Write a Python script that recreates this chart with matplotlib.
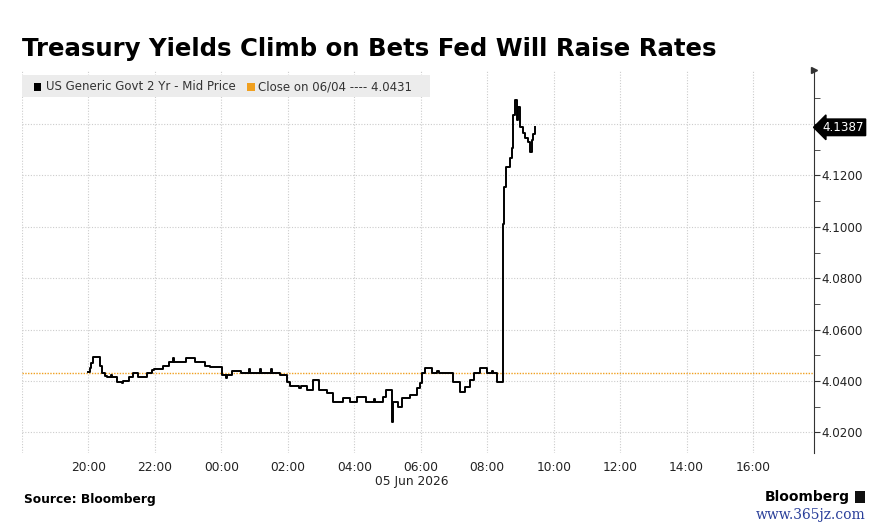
import matplotlib
matplotlib.use("Agg")
import matplotlib.pyplot as plt
import matplotlib.dates as mdates
from matplotlib.patches import Rectangle
import pandas as pd

# 2-year yield (time of each step, value)
times = [
    "2026-06-04 20:00", "2026-06-04 20:02", "2026-06-04 20:05", "2026-06-04 20:09",
    "2026-06-04 20:20", "2026-06-04 20:25", "2026-06-04 20:29", "2026-06-04 20:33",
    "2026-06-04 20:40", "2026-06-04 20:42", "2026-06-04 20:51", "2026-06-04 21:00",
    "2026-06-04 21:03", "2026-06-04 21:14", "2026-06-04 21:20", "2026-06-04 21:29",
    "2026-06-04 21:45", "2026-06-04 21:54", "2026-06-04 21:59", "2026-06-04 22:14",
    "2026-06-04 22:26", "2026-06-04 22:32", "2026-06-04 22:35", "2026-06-04 22:37",
    "2026-06-04 22:57", "2026-06-04 23:12", "2026-06-04 23:30", "2026-06-04 23:39",
    "2026-06-05 00:02", "2026-06-05 00:08", "2026-06-05 00:11", "2026-06-05 00:20",
    "2026-06-05 00:36", "2026-06-05 00:50", "2026-06-05 00:52", "2026-06-05 01:10",
    "2026-06-05 01:12", "2026-06-05 01:30", "2026-06-05 01:32", "2026-06-05 01:45",
    "2026-06-05 01:58", "2026-06-05 02:03", "2026-06-05 02:20", "2026-06-05 02:24",
    "2026-06-05 02:34", "2026-06-05 02:45", "2026-06-05 02:57", "2026-06-05 03:10",
    "2026-06-05 03:21", "2026-06-05 03:39", "2026-06-05 03:52", "2026-06-05 04:04",
    "2026-06-05 04:22", "2026-06-05 04:35", "2026-06-05 04:38", "2026-06-05 04:51",
    "2026-06-05 04:58", "2026-06-05 05:08", "2026-06-05 05:09", "2026-06-05 05:18",
    "2026-06-05 05:27", "2026-06-05 05:40", "2026-06-05 05:53", "2026-06-05 05:58",
    "2026-06-05 06:02", "2026-06-05 06:07", "2026-06-05 06:20", "2026-06-05 06:30",
    "2026-06-05 06:33", "2026-06-05 06:52", "2026-06-05 06:58", "2026-06-05 07:10",
    "2026-06-05 07:19", "2026-06-05 07:28", "2026-06-05 07:37", "2026-06-05 07:47",
    "2026-06-05 07:59", "2026-06-05 08:08", "2026-06-05 08:11", "2026-06-05 08:17",
    "2026-06-05 08:28", "2026-06-05 08:30", "2026-06-05 08:34", "2026-06-05 08:41",
    "2026-06-05 08:44", "2026-06-05 08:46", "2026-06-05 08:50", "2026-06-05 08:53",
    "2026-06-05 08:55", "2026-06-05 08:59", "2026-06-05 09:04", "2026-06-05 09:08",
    "2026-06-05 09:13", "2026-06-05 09:17", "2026-06-05 09:20", "2026-06-05 09:22",
    "2026-06-05 09:26",
]
yields = [
    4.0436, 4.0450, 4.0470, 4.0493,
    4.0460, 4.0431, 4.0420, 4.0415,
    4.0425, 4.0415, 4.0398, 4.0392,
    4.0400, 4.0415, 4.0430, 4.0415,
    4.0430, 4.0443, 4.0447, 4.0460,
    4.0474, 4.0490, 4.0474, 4.0474,
    4.0490, 4.0474, 4.0460, 4.0455,
    4.0423, 4.0410, 4.0423, 4.0440,
    4.0430, 4.0445, 4.0430, 4.0445,
    4.0430, 4.0445, 4.0430, 4.0423,
    4.0396, 4.0380, 4.0372, 4.0380,
    4.0365, 4.0404, 4.0365, 4.0353,
    4.0318, 4.0334, 4.0320, 4.0338,
    4.0320, 4.0330, 4.0320, 4.0338,
    4.0365, 4.0240, 4.0320, 4.0300,
    4.0334, 4.0345, 4.0373, 4.0392,
    4.0430, 4.0450, 4.0430, 4.0440,
    4.0430, 4.0430, 4.0396, 4.0357,
    4.0377, 4.0404, 4.0430, 4.0450,
    4.0430, 4.0440, 4.0430, 4.0396,
    4.1010, 4.1155, 4.1233, 4.1268,
    4.1307, 4.1435, 4.1493, 4.1416,
    4.1466, 4.1388, 4.1365, 4.1346,
    4.1330, 4.1291, 4.1338, 4.1360,
    4.1387,
]
prev_close = 4.0431
last_value = 4.1387

y_ticks = [4.02, 4.04, 4.06, 4.08, 4.10, 4.12, 4.14]
y_minor = [4.03, 4.05, 4.07, 4.09, 4.11, 4.13, 4.15]

W, H = 874, 530


def px(x, y):
    return x / W, 1 - y / H


def hour_label(v, pos):
    d = mdates.num2date(v)
    if d.hour == 18:
        return ""
    return d.strftime("%H:%M")


t = pd.to_datetime(times)

fig = plt.figure(figsize=(W / 100, H / 100), dpi=100)
ax = fig.add_axes([22 / W, 1 - 453 / H, (814 - 22) / W, (453 - 70) / H])

ax.plot(t, yields, drawstyle="steps-post", color="black", lw=1.4, zorder=3)
ax.axhline(prev_close, color="#f0a020", lw=1.0, ls=(0, (1, 1)), zorder=2)

ax.set_xlim(pd.Timestamp("2026-06-04 18:00"), pd.Timestamp("2026-06-05 17:50"))
ax.set_ylim(4.0120, 4.1610)

ax.xaxis.set_major_locator(mdates.HourLocator(byhour=range(0, 24, 2)))
ax.xaxis.set_major_formatter(plt.FuncFormatter(hour_label))
ax.yaxis.tick_right()
ax.set_yticks(y_ticks)
ax.set_yticks(y_minor, minor=True)
ax.set_yticklabels(["%.4f" % v if v < 4.135 else "" for v in y_ticks])

for s in ["left", "top", "bottom"]:
    ax.spines[s].set_visible(False)
ax.spines["right"].set_color("#333333")
ax.tick_params(axis="y", which="major", length=4, color="#333333", labelsize=8.6,
               labelcolor="#222222", pad=1)
ax.tick_params(axis="y", which="minor", length=4, color="#333333")
ax.tick_params(axis="x", length=0, labelsize=8.8, labelcolor="#222222", pad=6)

ax.grid(True, which="major", color="#cccccc", lw=0.8, ls=(0, (1, 1.5)))

# last value tag
ax.annotate("%.4f" % last_value, xy=(1.0, last_value),
            xycoords=("axes fraction", "data"), xytext=(6, 0),
            textcoords="offset points", va="center", ha="left",
            color="white", fontsize=8.6,
            bbox=dict(boxstyle="larrow,pad=0.15", fc="black", ec="black"),
            annotation_clip=False, zorder=5)

# arrow at the top of the axis
ax.plot([1.0], [1.0], marker=">", color="#333333", ms=4,
        transform=ax.transAxes, clip_on=False)

# legend strip
ax.add_patch(Rectangle((0, 1 - (97 - 70) / 383), (430 - 22) / 792, 22 / 383,
                       transform=ax.transAxes, fc="#ececec", ec="none", zorder=4))
fig.patches.append(Rectangle(px(34, 91), 7 / W, 8 / H, transform=fig.transFigure,
                             fc="black", ec="none", zorder=5))
fig.patches.append(Rectangle(px(247, 91), 8 / W, 8 / H, transform=fig.transFigure,
                             fc="#f0a020", ec="none", zorder=5))
fig.text(*px(46, 87), "US Generic Govt 2 Yr - Mid Price", fontsize=8.5,
         color="#333333", va="center", zorder=6)
fig.text(*px(258, 87), "Close on 06/04 ---- 4.0431", fontsize=8.5,
         color="#333333", va="center", zorder=6)

fig.text(*px(22, 49), "Treasury Yields Climb on Bets Fed Will Raise Rates",
         fontsize=17.6, fontweight="bold", va="center", ha="left")
fig.text(*px(412, 482), "05 Jun 2026", fontsize=8.8, color="#222222",
         ha="center", va="center")
fig.text(*px(24, 499), "Source: Bloomberg", fontsize=8.8, fontweight="bold",
         va="center")
fig.text(*px(850, 497), "Bloomberg", fontsize=10, fontweight="bold",
         ha="right", va="center")
fig.patches.append(Rectangle(px(855, 503), 10 / W, 12 / H, transform=fig.transFigure,
                             fc="#111111", ec="none"))
fig.text(*px(866, 515), "www.365jz.com", fontsize=10, family="DejaVu Serif",
         color="#2a3f9a", ha="right", va="center")

fig.savefig("out.png", dpi=100)
